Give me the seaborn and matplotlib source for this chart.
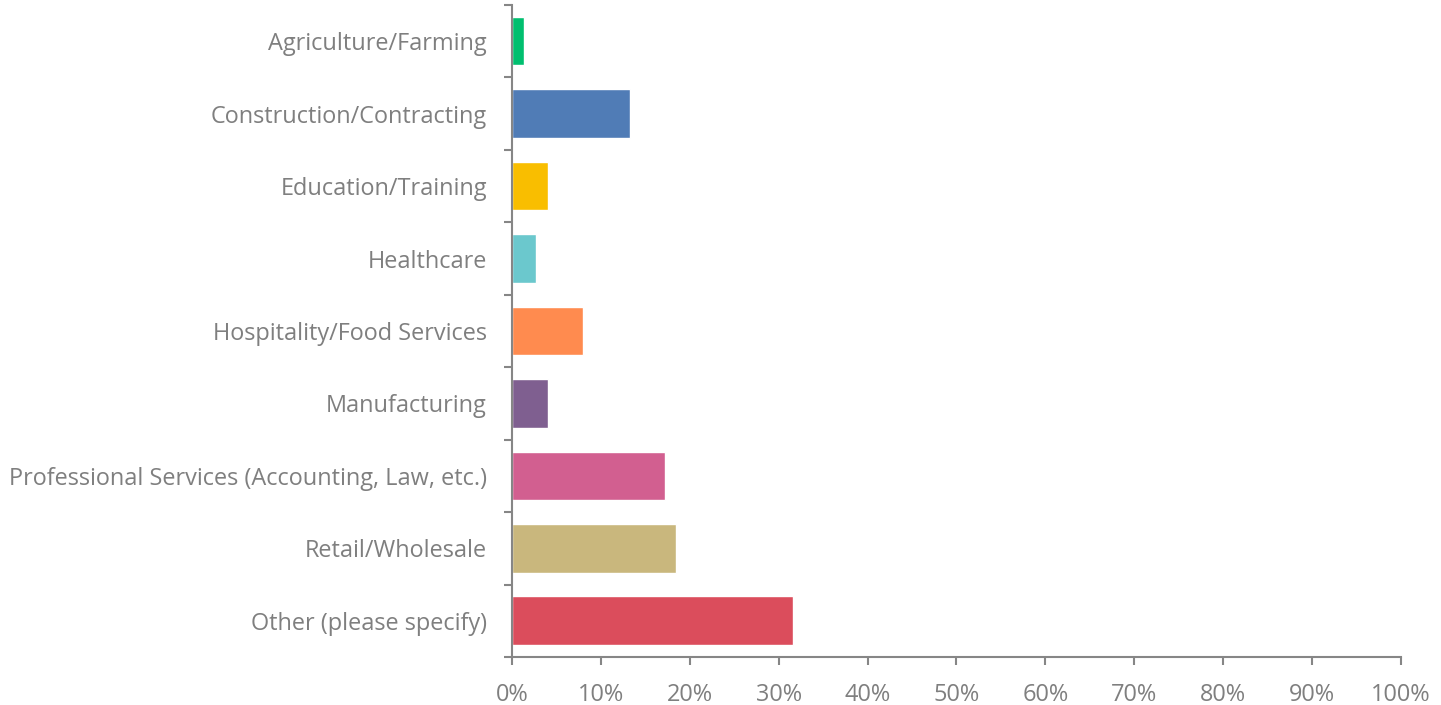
import matplotlib
matplotlib.use('Agg')
import matplotlib.pyplot as plt
import seaborn as sns
import numpy as np
import pandas as pd
from matplotlib.ticker import PercentFormatter, FixedLocator

# Dados
categorias = ['Agriculture/Farming', 'Construction/Contracting', 'Education/Training',
              'Healthcare', 'Hospitality/Food Services', 'Manufacturing',
              'Professional Services (Accounting, Law, etc.)', 'Retail/Wholesale',
              'Other (please specify)']
percentuais = [1.35, 13.3, 4.05, 2.7, 8.0, 4.05, 17.2, 18.4, 31.6]
cores = ['#00BF6F', '#507CB6', '#F9BE00', '#6BC8CD', '#FF8B4F',
         '#7F5F90', '#D25F90', '#C9B77D', '#DB4D5C']

df = pd.DataFrame({'categoria': categorias, 'valor': percentuais})

sns.set_style('white')
plt.rcParams['font.family'] = ['Open Sans', 'DejaVu Sans']

cinza_texto = '#7F7F7F'
cinza_eixo = '#868686'

fig = plt.figure(figsize=(14.41, 7.05), dpi=100)
ax = fig.add_axes([0.3553, 0.0681, 0.9722 - 0.3553, 0.9929 - 0.0681])

sns.barplot(data=df, x='valor', y='categoria', hue='categoria', palette=cores,
            order=categorias, hue_order=categorias, orient='h', width=0.67,
            legend=False, ax=ax, saturation=1)

ax.set_xlim(0, 100)
ax.set_ylim(len(categorias) - 0.5, -0.5)
ax.set_xticks(np.arange(0, 101, 10))
ax.xaxis.set_major_formatter(PercentFormatter(decimals=0))
ax.yaxis.set_minor_locator(FixedLocator(np.arange(-0.5, len(categorias), 1)))

ax.tick_params(axis='y', which='major', length=0, pad=18, labelsize=16.9, labelcolor=cinza_texto)
ax.tick_params(axis='y', which='minor', length=6, width=1.5, color=cinza_eixo, direction='out', left=True)
ax.tick_params(axis='x', which='major', length=6, width=1.5, color=cinza_eixo, direction='out',
               bottom=True, pad=13, labelsize=16.9, labelcolor=cinza_texto)

ax.set_xlabel('')
ax.set_ylabel('')
for lado in ['top', 'right']:
    ax.spines[lado].set_visible(False)
for lado in ['left', 'bottom']:
    ax.spines[lado].set_color(cinza_eixo)
    ax.spines[lado].set_linewidth(1.5)

plt.savefig('out.png', dpi=100)
